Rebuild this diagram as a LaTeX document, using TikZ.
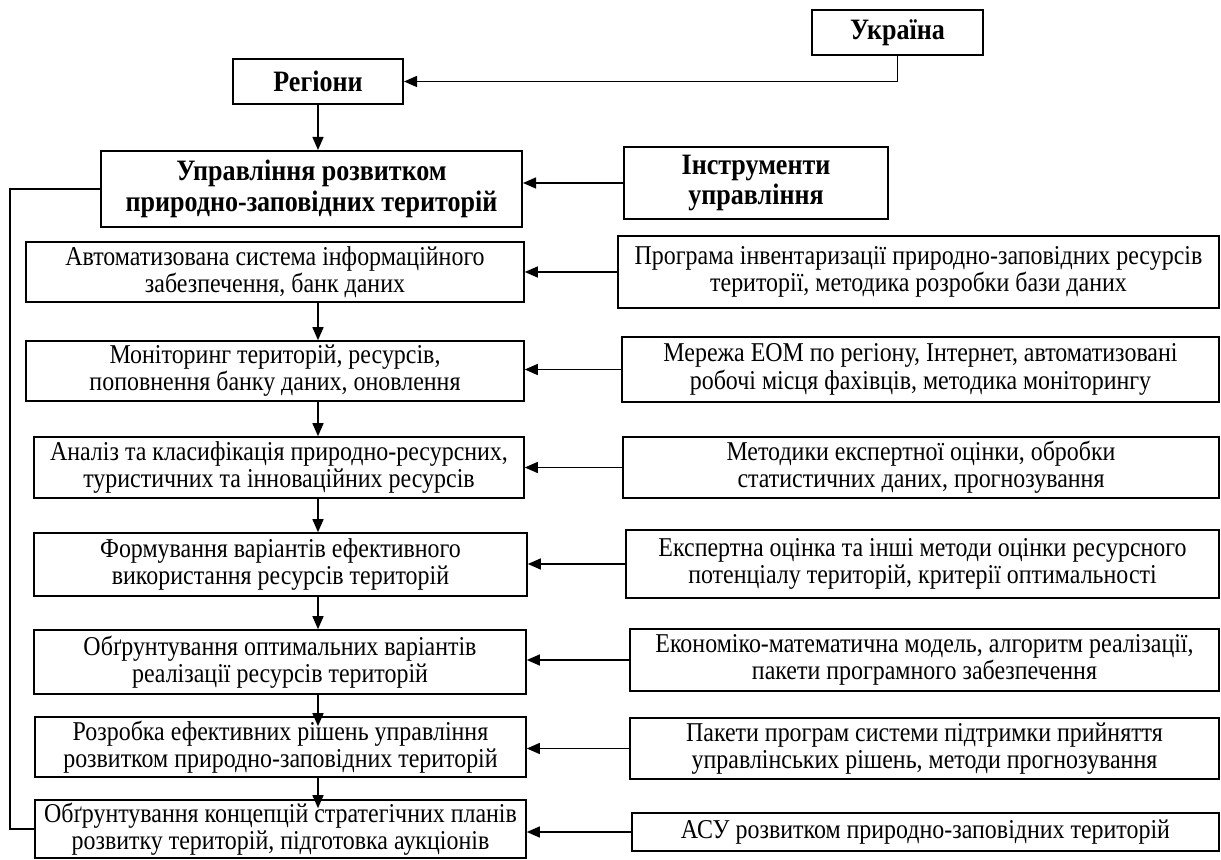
\documentclass[tikz,border=0pt]{standalone}
\usepackage{fontspec}
\setmainfont{Liberation Serif}[FakeStretch=0.88]
\usetikzlibrary{arrows.meta}

\begin{document}
\begin{tikzpicture}[
    x=0.5pt, y=-0.5pt,
    box/.style={draw, line width=0.8pt, inner sep=0pt, align=center,
                font=\fontsize{13.6}{13.6}\selectfont},
    head/.style={box, line width=1pt, font=\fontsize{14.8}{15.2}\selectfont\bfseries},
    arr/.style={line width=0.7pt, -{Triangle[length=6.5pt,width=5.5pt]}},
    link/.style={line width=0.7pt},
]
\useasboundingbox (0,0) rectangle (1221,860);

\node[head, minimum width=85.5pt, minimum height=22.5pt] (ukr) at (897.5,32.5) {Україна};
\node[head, minimum width=85pt,   minimum height=22.5pt] (reg) at (318,81.5)   {Регіони};
\node[head, minimum width=210.5pt,minimum height=38pt]   (upr) at (311.5,189)  {Управління розвитком\\природно-заповідних територій};
\node[head, minimum width=132pt,  minimum height=36pt]   (ins) at (756,183)    {Інструменти\\управління};

\node[box, minimum width=249pt,   minimum height=30pt]   (b1) at (275,272)     {Автоматизована система інформаційного\\забезпечення, банк даних};
\node[box, minimum width=249pt,   minimum height=30pt]   (b2) at (275,371)     {Моніторинг територій, ресурсів,\\поповнення банку даних, оновлення};
\node[box, minimum width=245pt,   minimum height=30.5pt] (b3) at (279,467.5)   {Аналіз та класифікація природно-ресурсних,\\туристичних та інноваційних ресурсів};
\node[box, minimum width=246.5pt, minimum height=31.5pt] (b4) at (280.5,564.5) {Формування варіантів ефективного\\використання ресурсів територій};
\node[box, minimum width=246pt,   minimum height=32pt]   (b5) at (280,662)     {Обґрунтування оптимальних варіантів\\реалізації ресурсів територій};
\node[box, minimum width=245.5pt, minimum height=30pt]   (b6) at (280.5,747)   {Розробка ефективних рішень управління\\розвитком природно-заповідних територій};
\node[box, minimum width=245.5pt, minimum height=29pt]   (b7) at (280.5,829)   {Обґрунтування концепцій стратегічних планів\\розвитку територій, підготовка аукціонів};

\node[box, minimum width=300.5pt, minimum height=36pt]   (r1) at (918.5,272)   {Програма інвентаризації природно-заповідних ресурсів\\території, методика розробки бази даних};
\node[box, minimum width=298.5pt, minimum height=32.5pt] (r2) at (920.5,369.5) {Мережа ЕОМ по регіону, Інтернет, автоматизовані\\робочі місця фахівців, методика моніторингу};
\node[box, minimum width=298pt,   minimum height=30.5pt] (r3) at (921,467.5)   {Методики експертної оцінки, обробки\\статистичних даних, прогнозування};
\node[box, minimum width=296.5pt, minimum height=34pt]   (r4) at (922.5,564)   {Експертна оцінка та інші методи оцінки ресурсного\\потенціалу територій, критерії оптимальності};
\node[box, minimum width=294.5pt, minimum height=31pt]   (r5) at (924.5,660)   {Економіко-математична модель, алгоритм реалізації,\\пакети програмного забезпечення};
\node[box, minimum width=294.5pt, minimum height=30.5pt] (r6) at (924.5,748.5) {Пакети програм системи підтримки прийняття\\управлінських рішень, методи прогнозування};
\node[box, minimum width=293.5pt, minimum height=19pt]   (r7) at (925.5,832)   {АСУ розвитком природно-заповідних територій};

\coordinate (back) at (10,189);

\draw[arr]  (ukr.south) |- (reg.east);
\draw[arr]  (reg.south) -- (upr.north -| reg.south);
\draw[arr]  (ins.west)  -- (ins.west -| upr.east);
\draw[link] (upr.west)  -- (back) |- (b7.west);

\draw[arr]  (b1.south -| reg.south) -- (b2.north -| reg.south);
\draw[arr]  (b2.south -| reg.south) -- (b3.north -| reg.south);
\draw[arr]  (b3.south -| reg.south) -- (b4.north -| reg.south);
\draw[arr]  (b4.south -| reg.south) -- (b5.north -| reg.south);
\draw[arr, shorten >=-5pt] (b5.south -| reg.south) -- (b6.north -| reg.south);
\draw[arr, shorten >=-4.5pt] (b6.south -| reg.south) -- (b7.north -| reg.south);

\draw[arr]  (r1.west) -- (r1.west -| b1.east);
\draw[arr]  (r2.west) -- (r2.west -| b2.east);
\draw[arr]  (r3.west) -- (r3.west -| b3.east);
\draw[arr]  (r4.west) -- (r4.west -| b4.east);
\draw[arr]  (r5.west) -- (r5.west -| b5.east);
\draw[arr]  (r6.west) -- (r6.west -| b6.east);
\draw[arr]  (r7.west) -- (r7.west -| b7.east);
\end{tikzpicture}
\end{document}
